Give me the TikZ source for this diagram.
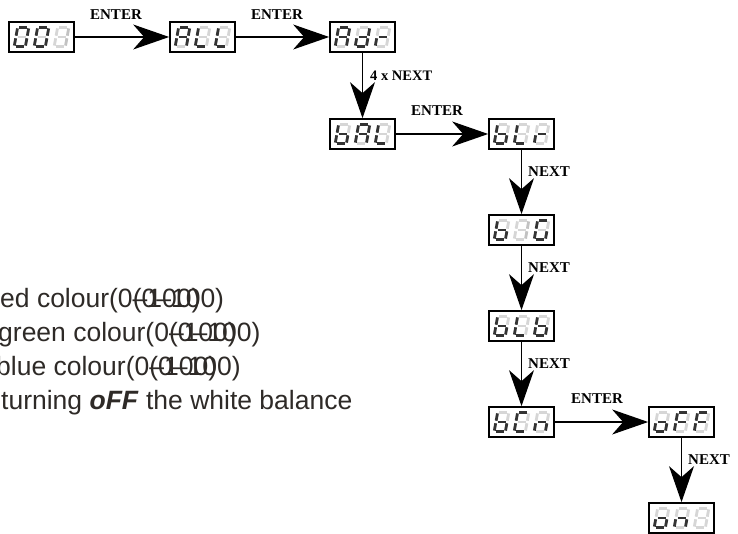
\documentclass[tikz,border=0pt]{standalone}
\usepackage{fontspec}
\setmainfont{Liberation Serif}
\newfontfamily\bodyfont{Liberation Sans}
\usetikzlibrary{arrows.meta}
\definecolor{segdark}{HTML}{333333}
\definecolor{seglight}{HTML}{D6D6D6}
\definecolor{segmid}{HTML}{C2C2C2}
\definecolor{txt}{HTML}{2E2A27}
\tikzset{
  s1/.style={draw=segdark},
  s0/.style={draw=seglight},
  s2/.style={draw=segmid},
  disp/.style={draw=black, line width=1.7pt, fill=white, minimum width=65pt, minimum height=30pt, inner sep=0pt},
  flow/.style={line width=1.2pt, -{Stealth[length=36pt, width=25pt, inset=11pt]}},
  keylab/.style={font=\bfseries\fontsize{15}{17}\selectfont, inner sep=0pt},
  bodytext/.style={font=\bodyfont\fontsize{26.5}{32}\selectfont, text=txt, inner sep=0pt, anchor=base west}
}
% one seven-segment digit: position, then segments a b c d e f g (1 on, 0 off, 2 faint)
\newcommand\dg[8]{%
  \begin{scope}[shift={#1}, xslant=0.18, line width=2.8pt]
    \draw[s#2] (-4.0,-9.8) -- (4.0,-9.8);
    \draw[s#3] (5.6,-8.6) -- (5.6,-1.3);
    \draw[s#4] (5.6,1.3) -- (5.6,8.6);
    \draw[s#5] (-4.0,9.8) -- (4.0,9.8);
    \draw[s#6] (-5.6,1.3) -- (-5.6,8.6);
    \draw[s#7] (-5.6,-8.6) -- (-5.6,-1.3);
    \draw[s#8] (-4.0,0) -- (4.0,0);
  \end{scope}}
% the doubled range as the reference prints it
\newcommand\rng{\rlap{(0–100)}\phantom{(0}(0–100)}
\begin{document}
\begin{tikzpicture}[x=1pt, y=-1pt]
\useasboundingbox (0,0) rectangle (738,534);
\clip (0,0) rectangle (738,534);

% left-hand text
\node[bodytext] (t1) at (0,307) {ed colour\rng};
\node[bodytext] (t2) at (-2,341) {green colour\rng};
\node[bodytext] (t3) at (-4,375) {blue colour\rng};
\node[bodytext] (t4) at (1,409) {turning \textbf{\textit{oFF}} the white balance};

% displays
\node[disp] (d001) at (41.5,37) {};
\node[disp] (dALL) at (202.5,37) {};
\node[disp] (dAdr) at (362.5,37) {};
\node[disp] (dbAL) at (362.5,134) {};
\node[disp] (dbLr) at (521.5,134) {};
\node[disp] (dbIG) at (521.5,230) {};
\node[disp] (dbLb) at (521.5,326) {};
\node[disp] (dbCn) at (521.5,422) {};
\node[disp] (doFF) at (681.5,422) {};
\node[disp] (donn) at (681.5,518) {};

\begin{scope}[shift={(d001.center)}]
  \dg{(-20,0)}1111110 \dg{(0,0)}1111110 \dg{(20,0)}0220000
\end{scope}
\begin{scope}[shift={(dALL.center)}]
  \dg{(-20,0)}1110111 \dg{(0,0)}0001110 \dg{(20,0)}0001110
\end{scope}
\begin{scope}[shift={(dAdr.center)}]
  \dg{(-20,0)}1110111 \dg{(0,0)}0111101 \dg{(20,0)}0000101
\end{scope}
\begin{scope}[shift={(dbAL.center)}]
  \dg{(-20,0)}0011111 \dg{(0,0)}1110111 \dg{(20,0)}0001110
\end{scope}
\begin{scope}[shift={(dbLr.center)}]
  \dg{(-20,0)}0011111 \dg{(0,0)}0001110 \dg{(20,0)}0000101
\end{scope}
\begin{scope}[shift={(dbIG.center)}]
  \dg{(-20,0)}0011111 \dg{(0,0)}0220000 \dg{(20,0)}1011110
\end{scope}
\begin{scope}[shift={(dbLb.center)}]
  \dg{(-20,0)}0011111 \dg{(0,0)}0001110 \dg{(20,0)}0011111
\end{scope}
\begin{scope}[shift={(dbCn.center)}]
  \dg{(-20,0)}0011111 \dg{(0,0)}1001110 \dg{(20,0)}0010101
\end{scope}
\begin{scope}[shift={(doFF.center)}]
  \dg{(-20,0)}0011101 \dg{(0,0)}1000111 \dg{(20,0)}1000111
\end{scope}
\begin{scope}[shift={(donn.center)}]
  \dg{(-20,0)}0011101 \dg{(0,0)}0010101 \dg{(20,0)}0000000
\end{scope}

% connectors
\draw[flow] (d001.east) -- (dALL.west);
\draw[flow] (dALL.east) -- (dAdr.west);
\draw[flow] (dAdr.south) -- (dbAL.north);
\draw[flow] (dbAL.east) -- (dbLr.west);
\draw[flow] (dbLr.south) -- (dbIG.north);
\draw[flow] (dbIG.south) -- (dbLb.north);
\draw[flow] (dbLb.south) -- (dbCn.north);
\draw[flow] (dbCn.east) -- (doFF.west);
\draw[flow] (doFF.south) -- (donn.north);

% labels
\node[keylab] (e1) at (116,15) {ENTER};
\node[keylab] (e2) at (277,15) {ENTER};
\node[keylab, anchor=west, font=\bfseries\fontsize{14.5}{17}\selectfont] (n1) at (370,76) {4 x NEXT};
\node[keylab] (e3) at (437,111) {ENTER};
\node[keylab, anchor=west] (n2) at (528,172) {NEXT};
\node[keylab, anchor=west] (n3) at (528,268) {NEXT};
\node[keylab, anchor=west] (n4) at (528,364) {NEXT};
\node[keylab] (e4) at (597,399) {ENTER};
\node[keylab, anchor=west] (n5) at (688,460) {NEXT};
\end{tikzpicture}
\end{document}
